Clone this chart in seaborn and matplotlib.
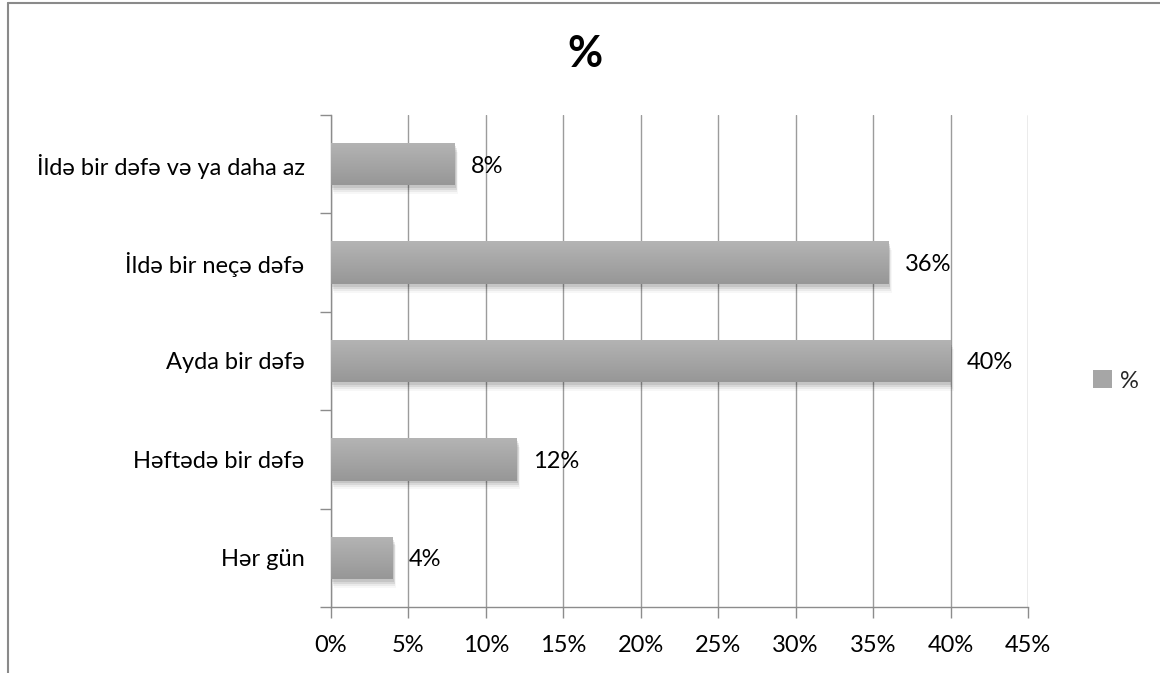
import numpy as np
import pandas as pd
import matplotlib
matplotlib.use("Agg")
import matplotlib.pyplot as plt
from matplotlib.lines import Line2D
from matplotlib.patches import Rectangle
import seaborn as sns

categories = [
    "İldə bir dəfə və ya daha az",
    "İldə bir neçə dəfə",
    "Ayda bir dəfə",
    "Həftədə bir dəfə",
    "Hər gün",
]
values = [8, 36, 40, 12, 4]
series_name = "%"
x_ticks = [0, 5, 10, 15, 20, 25, 30, 35, 40, 45]

sns.set_theme(style="white")
plt.rcParams["font.family"] = ["Lato", "DejaVu Sans"]

FS = 17

df = pd.DataFrame({"category": categories, "value": values})

fig = plt.figure(figsize=(11.6, 6.73), dpi=100)
ax = fig.add_axes([0.2853, 0.0981, 0.6009, 0.7310])

sns.barplot(data=df, y="category", x="value", order=categories,
            color="#a6a6a6", width=0.43, orient="h", ax=ax, zorder=3)

# vertical gradient fill and soft drop shadow for every bar
grad = np.linspace(0, 1, 64).reshape(-1, 1)
cmap = matplotlib.colors.LinearSegmentedColormap.from_list(
    "bargrad", ["#b4b4b4", "#979797"])
for bar in ax.patches:
    x0, y0 = bar.get_x(), bar.get_y()
    w, h = bar.get_width(), bar.get_height()
    for k, a in enumerate([0.09, 0.07, 0.05, 0.03]):
        sh = Rectangle((x0 + 0.06 + 0.05 * k, y0 + 0.03 + 0.02 * k), w, h,
                       facecolor="black", edgecolor="none", alpha=a, zorder=2)
        ax.add_patch(sh)
    bar.set_facecolor("none")
    bar.set_edgecolor("none")
    im = ax.imshow(grad, extent=[x0, x0 + w, y0 + h, y0], cmap=cmap,
                   aspect="auto", zorder=3, interpolation="bilinear")
    im.set_clip_path(bar)

ax.set_xlim(0, 45)
ax.set_ylim(4.5, -0.5)
ax.set_xticks(x_ticks)
ax.set_xticklabels([f"{t}%" for t in x_ticks], fontsize=FS, color="black")
ax.set_yticks(range(len(categories)))
ax.set_yticklabels(categories, fontsize=FS, color="black")
ax.set_yticks(np.arange(-0.5, len(categories), 1.0), minor=True)
ax.tick_params(axis="y", which="major", length=0, pad=19)
ax.tick_params(axis="y", which="minor", length=8, width=1, color="#8c8c8c",
               direction="out", left=True)
ax.tick_params(axis="x", which="major", length=8, width=1, color="#8c8c8c",
               direction="out", bottom=True, pad=12)
ax.set_xlabel("")
ax.set_ylabel("")

ax.grid(axis="x", color="#9c9c9c", linewidth=1.0, zorder=0)
ax.grid(axis="y", visible=False)
ax.set_axisbelow(True)
for side in ["top", "right"]:
    ax.spines[side].set_visible(False)
for side in ["left", "bottom"]:
    ax.spines[side].set_color("#8c8c8c")
    ax.spines[side].set_linewidth(1.0)

# value labels at the bar ends
for i, v in enumerate(values):
    ax.annotate(f"{v}%", xy=(v, i), xytext=(11.5, 0), textcoords="offset points",
                va="center_baseline", ha="left", fontsize=FS, color="black",
                zorder=5)

fig.text(0.5045, 0.92, "%", ha="center", va="center", fontsize=31,
         fontweight="bold", color="black")

handle = Rectangle((0, 0), 1, 1, facecolor="#a6a6a6", edgecolor="none")
fig.legend([handle], [series_name], loc="center left",
           bbox_to_anchor=(0.924, 0.434), frameon=False, fontsize=FS,
           handlelength=0.8, handleheight=0.8, handletextpad=0.35)

# outer chart frame (top and left edges)
fig.add_artist(Line2D([8 / 1160, 1.0], [1 - 3 / 673, 1 - 3 / 673],
                      transform=fig.transFigure, color="#8a8a8a", linewidth=1.5))
fig.add_artist(Line2D([8 / 1160, 8 / 1160], [0.0, 1 - 3 / 673],
                      transform=fig.transFigure, color="#8a8a8a", linewidth=1.5))

fig.savefig("out.png", dpi=100, facecolor="white")
